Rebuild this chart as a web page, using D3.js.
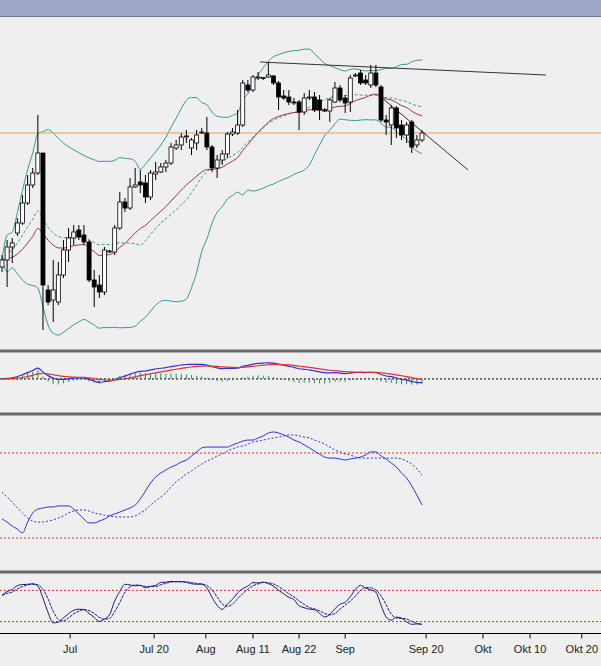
<!DOCTYPE html><html><head><meta charset="utf-8">
<script src="https://cdn.jsdelivr.net/npm/d3@7/dist/d3.min.js"></script>
<style>body{margin:0;background:#efefef}svg{display:block}</style></head><body>
<svg id="c" width="601" height="666"></svg>
<script>
// OHLC (arbitrary price units)
const opens =[83,90,103,117,127,147,165,177,197,60,50,48,75,100,112,120,115,108,70,65,58,98,98,122,148,142,163,168,167,153,176,178,183,187,202,205,213,202,207,217,217,203,182,190,196,216,217,225,265,260,272,272,273,274,267,254,253,248,248,238,252,253,250,240,239,248,262,252,248,274,277,270,265,277,263,230,225,242,225,215,228,205,210];
const highs =[95,110,112,132,155,175,182,235,197,65,90,88,110,122,125,125,125,110,80,75,103,100,125,158,152,172,182,180,175,180,188,187,190,207,210,217,220,212,220,222,233,205,195,200,218,222,240,270,270,275,278,273,288,275,269,260,260,252,250,257,260,258,255,242,252,268,265,255,275,277,280,275,285,285,265,235,245,244,230,228,230,215,220];
const lows  =[78,63,87,114,125,145,162,175,20,45,28,45,72,88,105,110,105,68,43,52,55,97,95,120,138,140,162,157,147,150,170,177,178,185,200,200,207,195,200,216,200,178,172,185,192,214,215,223,258,258,270,270,272,265,240,250,245,245,220,235,250,238,230,238,228,247,248,237,238,273,265,265,262,263,228,215,205,212,210,207,197,202,208];
const closes=[90,103,107,127,147,165,177,197,65,48,60,75,100,112,118,113,108,70,63,58,100,99,122,148,142,163,165,165,153,177,178,183,187,203,205,213,214,210,215,218,203,182,190,196,216,218,225,267,260,273,273,272.5,275,267,253,252,248,247,238,252,253,240,240,239,250,262,250,247,272,275,267,267,277,265,230,228,242,222,215,225,203,210,217];
// momentum oscillator, levels 30/70
const oscMain=[38.9,37.5,35.6,34.2,32.4,37.5,41.8,43.6,44.1,44.6,44.6,45.1,45.1,45.1,43.6,41.3,38.9,37.1,37.1,38.0,38.9,40.4,41.3,42.2,43.2,44.1,45.5,48.4,52.1,55.9,58.7,60.6,62.0,63.4,64.4,65.8,66.7,68.6,70.5,72.4,72.8,72.8,72.8,72.8,72.8,73.8,74.7,75.6,76.1,76.1,77.1,78.0,79.4,79.9,79.4,78.5,77.5,76.1,75.2,73.8,72.4,70.9,69.5,68.1,67.6,67.6,67.2,66.7,67.2,67.6,68.1,69.1,70.5,70.5,68.6,67.2,65.3,63.4,60.6,58.2,54.5,50.2,45.5];
const oscSignal=[51.6,49.3,46.9,44.1,41.8,39.4,38.0,37.5,37.5,38.0,38.5,39.4,40.4,41.8,42.7,43.2,43.2,42.7,41.8,41.3,40.8,40.4,39.9,39.9,39.9,39.9,40.4,41.8,43.2,45.5,47.4,49.3,51.2,54.0,56.4,58.2,60.1,61.5,63.4,64.8,66.2,67.2,68.6,69.5,70.9,71.9,72.8,73.3,74.2,75.2,75.6,76.1,76.6,77.1,77.5,78.0,78.5,78.5,78.0,77.5,77.1,76.1,75.2,74.2,72.8,71.4,70.5,69.5,69.1,68.1,67.6,67.6,67.6,67.6,67.6,67.6,67.6,67.6,67.2,66.2,64.8,62.5,59.6];
const tickLabels=["Jul","Jul 20","Aug","Aug 11","Aug 22","Sep","Sep 20","Okt","Okt 10","Okt 20"];
const tickIndex=[13.3,29.7,39.8,49,58,67,82.8,93.9,103.1,113.2];
const supportLevel=217;
const trend1=[[50.4,288],[106.2,275]];
const trend2=[[73.5,255],[91,180]];

const svg=d3.select("#c");
const n=closes.length, idx=d3.range(n);
const x=d3.scaleLinear().domain([0,82]).range([2,422]);
const y=d3.scaleLinear().domain([0,330]).range([350,20]);
const W=601;
svg.append("rect").attr("x",0).attr("y",0).attr("width",W).attr("height",16).attr("fill","#9ea8c6");
svg.append("line").attr("x1",0).attr("x2",W).attr("y1",16.5).attr("y2",16.5).attr("stroke","#6e7896");
[351,414,572].forEach(v=>svg.append("rect").attr("x",0).attr("y",v-1.5).attr("width",W).attr("height",3).attr("fill","#6a6a6a"));

function sma(a,p){return a.map((_,i)=>{const s=a.slice(Math.max(0,i-p+1),i+1);return d3.mean(s);});}
function sd(a,p){return a.map((_,i)=>{const s=a.slice(Math.max(0,i-p+1),i+1);return d3.deviation(s)||0;});}
function ema(a,p){const k=2/(p+1);let r=[];a.forEach((v,i)=>r.push(i?v*k+r[i-1]*(1-k):v));return r;}
const mid=sma(closes,20), dev=sd(closes,20);
const up=mid.map((m,i)=>m+2*dev[i]), lo=mid.map((m,i)=>m-2*dev[i]);
const e20=ema(closes,20);
const line=(arr,sc)=>d3.line().x((d,i)=>x(i)).y(d=>sc(d)).curve(d3.curveMonotoneX)(arr);
const main=svg.append("g");
main.append("path").attr("d",line(up,y)).attr("fill","none").attr("stroke","#2f9a96");
main.append("path").attr("d",line(lo,y)).attr("fill","none").attr("stroke","#2f9a96");
main.append("path").attr("d",line(mid,y)).attr("fill","none").attr("stroke","#3a9a96").attr("stroke-dasharray","3,2");
main.append("path").attr("d",line(e20,y)).attr("fill","none").attr("stroke","#a83030");
main.append("line").attr("x1",0).attr("x2",W).attr("y1",y(supportLevel)).attr("y2",y(supportLevel)).attr("stroke","#f0a050").attr("stroke-width",1.2);
[trend1,trend2].forEach(t=>main.append("line").attr("x1",x(t[0][0])).attr("y1",y(t[0][1])).attr("x2",x(t[1][0])).attr("y2",y(t[1][1])).attr("stroke","#333"));
idx.forEach(i=>{
  main.append("line").attr("x1",x(i)).attr("x2",x(i)).attr("y1",y(highs[i])).attr("y2",y(lows[i])).attr("stroke","#000");
  const t=Math.max(opens[i],closes[i]),b=Math.min(opens[i],closes[i]);
  main.append("rect").attr("x",x(i)-2).attr("width",4).attr("y",y(t)).attr("height",Math.max(1,y(b)-y(t)))
    .attr("fill",closes[i]>=opens[i]?"#fff":"#000").attr("stroke","#000").attr("stroke-width",0.8);
});

// MACD
const e26=ema(closes,26);
const macd=ema(closes,12).map((v,i)=>v-e26[i]);
const sig=ema(macd,9);
const ym=d3.scaleLinear().domain([-25,40]).range([392,358]);
const g2=svg.append("g");
g2.append("line").attr("x1",0).attr("x2",W).attr("y1",ym(0)).attr("y2",ym(0)).attr("stroke","#000").attr("stroke-dasharray","2,2");
idx.forEach(i=>g2.append("line").attr("x1",x(i)).attr("x2",x(i)).attr("y1",ym(0)).attr("y2",ym((macd[i]-sig[i])*1.5)).attr("stroke","#2a8a70"));
g2.append("path").attr("d",line(macd,ym)).attr("fill","none").attr("stroke","#3030e0").attr("stroke-width",1.2);
g2.append("path").attr("d",line(sig,ym)).attr("fill","none").attr("stroke","#e03030").attr("stroke-width",1.2);

// oscillator panel
const yr=d3.scaleLinear().domain([30,70]).range([538,453]);
const g3=svg.append("g");
[30,70].forEach(v=>g3.append("line").attr("x1",0).attr("x2",W).attr("y1",yr(v)).attr("y2",yr(v)).attr("stroke","#e03030").attr("stroke-dasharray","2,2"));
g3.append("path").attr("d",line(oscMain,yr)).attr("fill","none").attr("stroke","#2f2fe0");
g3.append("path").attr("d",line(oscSignal,yr)).attr("fill","none").attr("stroke","#2f2fe0").attr("stroke-dasharray","2,2");

// Stochastic
const rawK=closes.map((c,i)=>{const s=Math.max(0,i-13);const hh=d3.max(highs.slice(s,i+1)),ll=d3.min(lows.slice(s,i+1));return hh===ll?50:100*(c-ll)/(hh-ll);});
const kS=sma(rawK,3), dS=sma(kS,3);
const ys=d3.scaleLinear().domain([0,100]).range([632,580]);
const g4=svg.append("g");
[20,80].forEach(v=>g4.append("line").attr("x1",0).attr("x2",W).attr("y1",ys(v)).attr("y2",ys(v)).attr("stroke","#e03030").attr("stroke-dasharray","2,2"));
g4.append("path").attr("d",line(kS,ys)).attr("fill","none").attr("stroke","#1a1a80");
g4.append("path").attr("d",line(dS,ys)).attr("fill","none").attr("stroke","#1a1a80").attr("stroke-dasharray","3,1");

// axis
const ax=svg.append("g").attr("transform","translate(0,633.5)");
ax.append("line").attr("x1",0).attr("x2",W).attr("stroke","#000");
tickIndex.forEach((t,i)=>{
  ax.append("line").attr("x1",x(t)).attr("x2",x(t)).attr("y1",0).attr("y2",5).attr("stroke","#000");
  ax.append("text").attr("x",x(t)).attr("y",19).attr("text-anchor","middle").attr("font-family","Liberation Sans, Arial").attr("font-size",11).attr("fill","#222").text(tickLabels[i]);
});
</script></body></html>
